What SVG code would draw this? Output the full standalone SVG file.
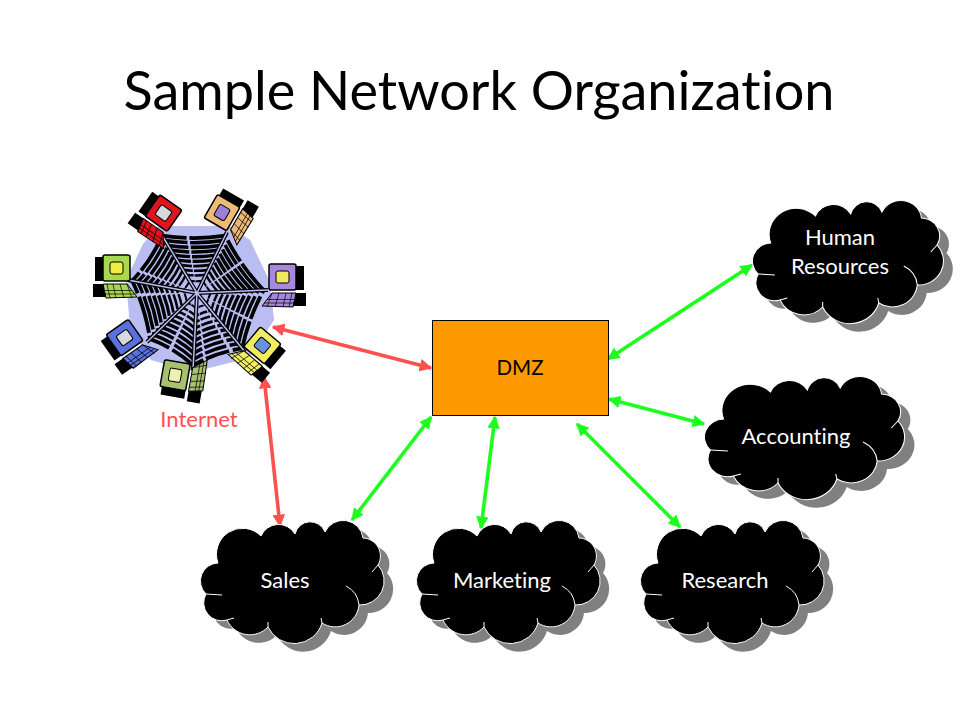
<svg xmlns="http://www.w3.org/2000/svg" xmlns:xlink="http://www.w3.org/1999/xlink" width="960" height="720" viewBox="0 0 960 720">
<style>
text{font-family:"Lato","Liberation Sans",sans-serif;text-anchor:middle;font-variant-ligatures:none}
.t{font-size:54px;fill:#000}
.w{font-size:22px;fill:#fff}
.r{stroke:#ff5050;stroke-width:3.6;fill:none;marker-start:url(#ra);marker-end:url(#ra)}
.g{stroke:#1cff1c;stroke-width:3.6;fill:none;marker-start:url(#ga);marker-end:url(#ga)}
.ring{fill:none;stroke:#000;stroke-linejoin:round;stroke-dasharray:26 3 40 4}
</style>
<defs>
<marker id="ra" viewBox="0 0 10 10" refX="9" refY="5" markerWidth="3.500" markerHeight="3.500" orient="auto-start-reverse"><path d="M0,0L10,5L0,10z" fill="#ff5050"/></marker>
<marker id="ga" viewBox="0 0 10 10" refX="9" refY="5" markerWidth="3.500" markerHeight="3.500" orient="auto-start-reverse"><path d="M0,0L10,5L0,10z" fill="#1cff1c"/></marker>
<path id="cp" d="M218,563A18,18 0 0 0 206,594A18,18 0 0 0 227,620A25,25 0 0 0 268,627A29,29 0 0 0 322,623A24,24 0 0 0 359,605A24,24 0 0 0 378,565A18,18 0 0 0 363,538A20,20 0 0 0 325,532A15.7,15.7 0 0 0 295,534A19,19 0 0 0 261,536A26,26 0 0 0 218,563Z"/>
<g id="cloud">
<use href="#cp" transform="translate(9,8)" fill="#808080"/>
<use href="#cp" fill="#000" stroke="#fff" stroke-width="1"/>
<path d="M346,586A24,24 0 0 1 359,605M372,572L378,565M222,595L206,594M321,618L322,623M268,622L268,627M227,620L234,618" fill="none" stroke="#fff" stroke-width="1"/>
</g>
<path id="w" d="M-37,-61Q-3,-56 30,-61Q46,-29 71,-3Q55,26 48,59Q20,63 -4,77Q-25,58 -50,49Q-55,16 -69,-13Q-49,-34 -37,-61Z"/>
<g id="pc">
<rect x="8" y="-24" width="14" height="24" fill="#000"/>
<rect x="8" y="3" width="16" height="13" fill="#000"/>
<rect x="-13" y="-26" width="27" height="26" rx="2" fill="currentColor" stroke="#000" stroke-width="1.500"/>
<rect x="-6" y="-19" width="13" height="12" rx="2" stroke="#000" stroke-width="1"/>
<path d="M-20,16L-10,3L14,3L11,17Z" fill="currentColor" stroke="#000" stroke-width="1"/>
<path d="M-15,9.500L12.500,9.500M-18,13L12,13M-10,3L-15,17M-3,3L-7,17M4,3L1,17M10,3L7,17" stroke="#000" stroke-width=".7" fill="none"/>
</g>
</defs>
<text class="t" x="479" y="110">Sample Network Organization</text>
<g id="connectors">
<line class="r" x1="273" y1="327" x2="431" y2="368"/>
<line class="r" x1="264" y1="377" x2="280" y2="526"/>
<line class="g" x1="608" y1="359" x2="752" y2="265"/>
<line class="g" x1="609" y1="399" x2="704" y2="424"/>
<line class="g" x1="577" y1="424" x2="680" y2="527"/>
<line class="g" x1="495" y1="417" x2="481" y2="528"/>
<line class="g" x1="431" y1="417" x2="352" y2="520"/>
</g>
<g id="internet">
<polygon points="158,226 229,226 250,240 270,282 274,320 249,358 193,372 151,360 130,327 126,280 143,244" fill="#b9bdf2"/>
<g transform="translate(197,293)">
<use href="#w" class="ring" transform="scale(.2)" stroke-width="10"/>
<use href="#w" class="ring" transform="scale(.3)" stroke-width="8"/>
<use href="#w" class="ring" transform="scale(.38)" stroke-width="7"/>
<use href="#w" class="ring" transform="scale(.46)" stroke-width="6"/>
<use href="#w" class="ring" transform="scale(.54)" stroke-width="6"/>
<use href="#w" class="ring" transform="scale(.62)" stroke-width="5.500"/>
<use href="#w" class="ring" transform="scale(.7)" stroke-width="5"/>
<use href="#w" class="ring" transform="scale(.78)" stroke-width="4.500"/>
<use href="#w" class="ring" transform="scale(.86)" stroke-width="4"/>
<use href="#w" class="ring" transform="scale(.94)" stroke-width="4"/>
<path d="M0,0L-37,-61M0,0L30,-61M0,0L71,-3M0,0L48,59M0,0L-4,77M0,0L-50,49M0,0L-69,-13" stroke="#000" stroke-width="4"/>
<path d="M0,0L-37,-61M0,0L30,-61M0,0L71,-3M0,0L48,59M0,0L-4,77M0,0L-50,49M0,0L-69,-13" stroke="#b9bdf2" stroke-width="1.500"/>
</g>
<use href="#pc" color="#e0141c" fill="#d8d8e0" transform="translate(156.500,224) rotate(35) scale(-1,1)"/>
<use href="#pc" color="#eebb77" fill="#9a80d8" transform="translate(233,219.500) rotate(-60)"/>
<use href="#pc" color="#a888dc" fill="#f0e860" transform="translate(282,290)"/>
<use href="#pc" color="#f0ee60" fill="#6a90e0" transform="translate(253.600,355) rotate(40)"/>
<use href="#pc" color="#a8c070" fill="#eef0b0" transform="translate(188,377) rotate(-80) scale(-1,1)"/>
<use href="#pc" color="#5a70dc" fill="#d8d8e0" transform="translate(132.500,348) rotate(-35) scale(-1,1)"/>
<use href="#pc" color="#a8d850" fill="#f0ee40" transform="translate(117,281) scale(-1,1)"/>
<text x="199" y="427" font-size="22" fill="#ff5050">Internet</text>
</g>
<g id="dmz">
<rect x="432.500" y="320.500" width="176" height="95" fill="#ff9900" stroke="#000"/>
<text x="520" y="375" font-size="20.500" fill="#000">DMZ</text>
</g>
<g id="hr">
<use href="#cloud" transform="translate(753,-320) scale(1.04,1) translate(-201,0)"/>
<text class="w" x="840" y="245">Human</text>
<text class="w" x="840" y="274">Resources</text>
</g>
<g id="accounting">
<use href="#cloud" transform="translate(705,-144) scale(1.09,1) translate(-201,0)"/>
<text class="w" x="796" y="444">Accounting</text>
</g>
<g id="sales">
<use href="#cloud"/>
<text class="w" x="285" y="588">Sales</text>
</g>
<g id="marketing">
<use href="#cloud" transform="translate(216,0)"/>
<text class="w" x="502" y="588">Marketing</text>
</g>
<g id="research">
<use href="#cloud" transform="translate(440,0)"/>
<text class="w" x="725" y="588">Research</text>
</g>
</svg>
